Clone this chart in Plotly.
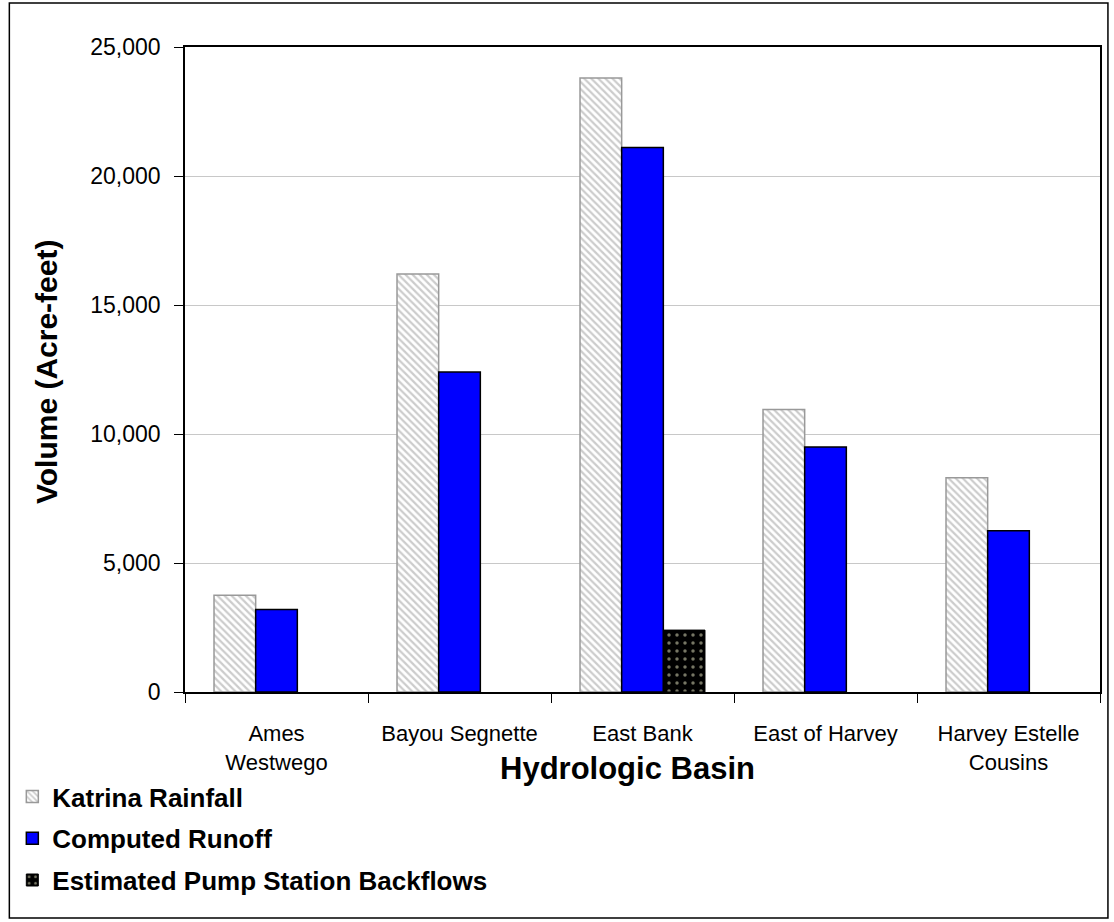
"""Volumes par bassin hydrologique (Katrina) - recreation Plotly."""

import plotly.graph_objects as go

# Donnees
basins = ["Ames<br>Westwego", "Bayou Segnette", "East Bank", "East of Harvey", "Harvey Estelle<br>Cousins"]
katrina_rainfall = [3750, 16200, 23800, 10950, 8300]
computed_runoff = [3200, 12400, 21100, 9500, 6250]
pump_backflows = [None, None, 2400, None, None]
y_ticks = [0, 5000, 10000, 15000, 20000, 25000]
y_tick_labels = ["0", "5,000", "10,000", "15,000", "20,000", "25,000"]

FONT = "Liberation Sans, Arial, sans-serif"
W, H = 1114, 922
M_L, M_R, M_T, M_B = 180, 12, 47, 230
PW, PH = W - M_L - M_R, H - M_T - M_B


def px_x(x):
    return (x - M_L) / PW


def px_y(y):
    return (H - M_B - y) / PH


fig = go.Figure()

fig.add_trace(go.Bar(
    x=basins, y=katrina_rainfall, name="Katrina Rainfall", legendgroup="a",
    marker=dict(
        color="white",
        line=dict(color="#999999", width=1.5),
        pattern=dict(shape="\\", fgcolor="#999999", bgcolor="white", size=5, solidity=0.45),
    ),
))
fig.add_trace(go.Bar(
    x=basins, y=computed_runoff, name="Computed Runoff", legendgroup="b",
    marker=dict(color="#0000FF", line=dict(color="black", width=1.5)),
))
fig.add_trace(go.Bar(
    x=basins, y=pump_backflows, name="Estimated Pump Station Backflows", legendgroup="c",
    marker=dict(
        color="black",
        line=dict(color="black", width=1),
        pattern=dict(shape=".", fgcolor="#ecebc8", bgcolor="black", size=8, solidity=0.15),
    ),
))

fig.update_layout(
    width=W, height=H,
    barmode="group", bargap=0.317, bargroupgap=0,
    paper_bgcolor="white", plot_bgcolor="white",
    margin=dict(l=M_L, r=M_R, t=M_T, b=M_B),
    font=dict(family=FONT, color="black", size=23),
    showlegend=True,
    legend=dict(
        x=px_x(6), y=px_y(773), xanchor="left", yanchor="top",
        orientation="v", tracegroupgap=5,
        font=dict(size=26, family=FONT, weight="bold"),
        bgcolor="rgba(0,0,0,0)",
    ),
    xaxis=dict(
        tickson="boundaries", ticks="outside", ticklen=9, tickcolor="black",
        showline=True, linecolor="black", linewidth=1.5, mirror=True,
        tickfont=dict(size=22), ticklabelstandoff=21,
    ),
    yaxis=dict(
        range=[0, 25000], tickvals=y_ticks, ticktext=y_tick_labels,
        ticks="outside", ticklen=9, tickcolor="black",
        showline=True, linecolor="black", linewidth=1.5, mirror=True,
        showgrid=True, gridcolor="#c8c8c8", gridwidth=1,
        tickfont=dict(size=23), ticklabelstandoff=9,
    ),
    shapes=[dict(
        type="rect", xref="paper", yref="paper",
        x0=px_x(3), x1=px_x(1110), y0=px_y(918), y1=px_y(3),
        line=dict(color="black", width=1.5),
    )],
    annotations=[
        dict(
            text="<b>Hydrologic Basin</b>", xref="paper", yref="paper",
            x=px_x(626), y=px_y(768), xanchor="center", yanchor="middle",
            showarrow=False, font=dict(size=31),
        ),
        dict(
            text="<b>Volume (Acre-feet)</b>", xref="paper", yref="paper",
            x=px_x(40), y=px_y(372), xanchor="center", yanchor="middle",
            textangle=-90, showarrow=False, font=dict(size=30),
        ),
    ],
)

# la page html a une marge de 8px par defaut, on la retire
fig.write_html(
    "out.html",
    config={"displayModeBar": False},
    post_script="document.body.style.margin='0';",
)
